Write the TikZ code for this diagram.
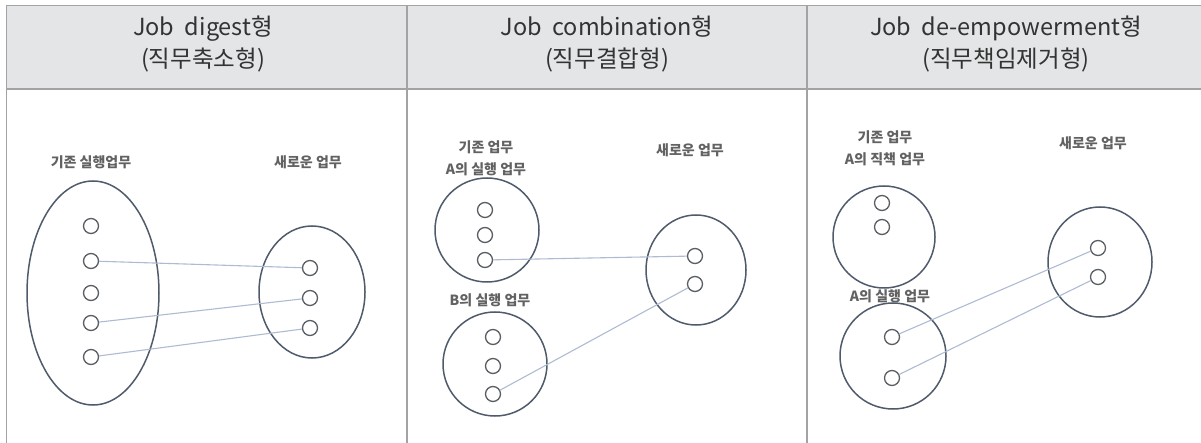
\documentclass[tikz,border=0pt]{standalone}
\usepackage{fontspec}
\setmainfont{Noto Sans CJK KR}
\usetikzlibrary{shapes.geometric}
\definecolor{hdrfill}{HTML}{E4E5E7}
\definecolor{rule}{HTML}{A3A3A3}
\definecolor{hdrtext}{HTML}{333333}
\definecolor{lbltext}{HTML}{626262}
\definecolor{ringcol}{HTML}{4F5B6B}
\definecolor{dotcol}{HTML}{5A5F66}
\definecolor{linkcol}{HTML}{AEBBD3}
\tikzset{
  x=1pt, y=-1pt,
  rulestyle/.style={draw=rule, line width=1.6pt},
  hdr/.style={align=center, text=hdrtext, font=\fontsize{23.5}{32}\selectfont, inner sep=0pt},
  lbl/.style={align=center, text=lbltext, font=\bfseries\fontsize{14}{22}\selectfont, inner sep=0pt},
  ring/.style={draw=ringcol, line width=1.5pt, circle, inner sep=0pt},
  oval/.style={draw=ringcol, line width=1.5pt, ellipse, inner sep=0pt},
  dot/.style={draw=dotcol, line width=1.3pt, circle, minimum size=15pt, inner sep=0pt},
  link/.style={draw=linkcol, line width=1.1pt},
}
\begin{document}
\begin{tikzpicture}
\useasboundingbox (0,0) rectangle (1201,443);
% table
\fill[hdrfill] (6,5) rectangle (1201,89);
\draw[rulestyle] (6,5.5) -- (1201,5.5);
\draw[rulestyle] (6,89) -- (1201,89);
\draw[rulestyle] (6.5,5) -- (6.5,443);
\draw[rulestyle] (407,5) -- (407,443);
\draw[rulestyle] (807,5) -- (807,443);
% headers
\node[hdr] (h1) at (203,44) {Job\ \ digest형\\(직무축소형)};
\node[hdr] (h2) at (607,44) {Job\ \ combination형\\(직무결합형)};
\node[hdr] (h3) at (1006,44) {Job\ \ de-empowerment형\\(직무책임제거형)};
% panel 1
\node[lbl] (p1l1) at (91,162) {기존 실행업무};
\node[lbl] (p1l2) at (308,162) {새로운 업무};
\node[oval, minimum width=132pt, minimum height=224pt] (p1old) at (93,293) {};
\node[oval, minimum width=106pt, minimum height=132pt] (p1new) at (312,292) {};
\node[dot] (p1a) at (91,226) {};
\node[dot] (p1b) at (91,261) {};
\node[dot] (p1c) at (91,293) {};
\node[dot] (p1d) at (91,323) {};
\node[dot] (p1e) at (91,357) {};
\node[dot] (p1x) at (310,268) {};
\node[dot] (p1y) at (310,298) {};
\node[dot] (p1z) at (310,328) {};
\draw[link] (p1b) -- (p1x);
\draw[link] (p1d) -- (p1y);
\draw[link] (p1e) -- (p1z);
% panel 2
\node[lbl] (p2l1) at (486,158) {기존 업무\\A의 실행 업무};
\node[lbl] (p2l2) at (490,300) {B의 실행 업무};
\node[lbl] (p2l3) at (690,150) {새로운 업무};
\node[ring, minimum size=104pt] (p2A) at (487,230) {};
\node[ring, minimum size=104pt] (p2B) at (495,364) {};
\node[oval, minimum width=100pt, minimum height=110pt] (p2N) at (696,270) {};
\node[dot] (p2a1) at (485,210) {};
\node[dot] (p2a2) at (485,235) {};
\node[dot] (p2a3) at (485,260) {};
\node[dot] (p2b1) at (493,337) {};
\node[dot] (p2b2) at (493,366) {};
\node[dot] (p2b3) at (493,394) {};
\node[dot] (p2n1) at (695,256) {};
\node[dot] (p2n2) at (695,284) {};
\draw[link] (p2a3) -- (p2n1);
\draw[link] (p2b3) -- (p2n2);
% panel 3
\node[lbl] (p3l1) at (885,148) {기존 업무\\A의 직책 업무};
\node[lbl] (p3l2) at (890,296) {A의 실행 업무};
\node[lbl] (p3l3) at (1093,143) {새로운 업무};
\node[ring, minimum size=102pt] (p3T) at (884,237) {};
\node[ring, minimum size=106pt] (p3B) at (893,356) {};
\node[oval, minimum width=104pt, minimum height=110pt] (p3N) at (1100,262) {};
\node[dot] (p3t1) at (882,203) {};
\node[dot] (p3t2) at (882,227) {};
\node[dot] (p3b1) at (892,337) {};
\node[dot] (p3b2) at (892,378) {};
\node[dot] (p3n1) at (1098,248) {};
\node[dot] (p3n2) at (1098,277) {};
\draw[link] (p3b1) -- (p3n1);
\draw[link] (p3b2) -- (p3n2);
\end{tikzpicture}
\end{document}
